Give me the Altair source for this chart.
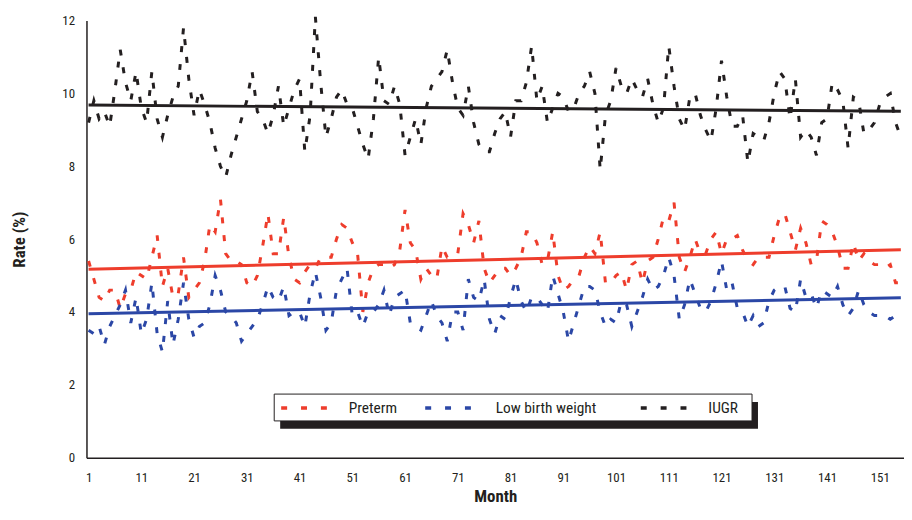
import altair as alt
import pandas as pd

months = list(range(1, 156))

iugr = [9.2, 9.8, 9.3, 9.5, 9.1, 10.1, 11.2, 10.3, 9.8, 10.6,
        9.6, 9.2, 10.6, 9.3, 8.8, 9.4, 9.9, 10.2, 11.8, 10.4,
        9.4, 10.1, 9.7, 9.2, 8.5, 8.0, 7.7, 8.3, 8.8, 9.3,
        9.8, 10.6, 9.5, 9.3, 8.9, 9.4, 10.2, 9.1, 9.6, 10.1,
        10.4, 8.4, 9.4, 12.1, 10.3, 8.8, 9.3, 9.9, 10.1, 9.7,
        9.6, 9.1, 8.6, 8.2, 9.3, 11.0, 9.8, 9.7, 10.2, 9.7,
        8.3, 8.8, 9.3, 8.6, 9.6, 10.2, 10.4, 10.6, 11.2, 10.3,
        9.6, 9.4, 10.2, 9.2, 8.6, 8.4, 8.4, 8.9, 9.3, 9.5,
        8.8, 9.8, 9.8, 10.3, 11.3, 9.8, 10.2, 9.2, 9.6, 10.0,
        9.9, 9.5, 9.6, 10.0, 10.2, 10.6, 10.0, 7.9, 9.4, 9.8,
        10.7, 10.2, 10.0, 10.4, 10.1, 9.9, 10.4, 9.7, 9.2, 9.6,
        11.3, 10.2, 9.3, 9.0, 9.9, 10.0, 9.4, 9.0, 8.7, 9.6,
        10.9, 9.9, 9.1, 9.1, 9.4, 8.1, 8.9, 8.8, 8.7, 9.2,
        10.0, 10.6, 10.4, 9.3, 10.4, 8.8, 9.0, 8.8, 8.3, 9.2,
        9.3, 10.3, 10.1, 9.8, 8.5, 9.9, 9.8, 8.9, 9.0, 9.2,
        9.7, 9.9, 10.0, 9.2, 8.8]

preterm = [5.4, 4.9, 4.4, 4.3, 4.6, 4.6, 4.1, 4.5, 4.6, 5.1,
           5.0, 4.9, 5.5, 6.1, 4.7, 5.2, 4.4, 4.5, 5.5, 4.4,
           4.6, 4.8, 5.4, 6.4, 6.2, 7.1, 5.6, 5.4, 5.4, 5.3,
           4.8, 4.7, 5.0, 5.8, 6.7, 5.6, 5.6, 6.6, 5.5, 4.9,
           4.8, 5.1, 5.3, 5.2, 5.5, 5.5, 5.5, 6.0, 6.4, 6.3,
           5.9, 5.6, 4.0, 4.8, 5.2, 5.3, 5.3, 5.2, 5.3, 5.7,
           6.8, 5.9, 5.7, 4.9, 5.2, 5.0, 4.9, 5.8, 5.5, 5.5,
           5.6, 6.7, 6.4, 5.9, 6.5, 5.2, 4.8, 5.0, 5.2, 5.2,
           5.0, 5.2, 5.5, 6.2, 6.2, 5.9, 5.3, 5.4, 6.2, 5.0,
           4.6, 4.7, 4.9, 5.0, 5.5, 5.8, 5.6, 6.2, 4.8, 4.8,
           5.0, 5.1, 4.6, 5.3, 5.4, 4.8, 5.4, 5.5, 6.0, 6.6,
           6.5, 7.0, 5.5, 5.1, 5.5, 6.0, 5.6, 5.6, 6.0, 6.2,
           5.6, 6.0, 6.0, 6.1, 5.7, 5.4, 5.3, 5.5, 5.5, 5.5,
           6.1, 6.6, 6.7, 6.2, 5.7, 6.3, 5.9, 5.3, 5.4, 6.5,
           6.4, 6.2, 5.8, 5.2, 5.2, 5.9, 5.4, 5.6, 5.4, 5.3,
           5.3, 5.2, 5.3, 4.8, 4.8]

lbw = [3.5, 3.4, 3.6, 3.1, 3.6, 3.9, 4.2, 4.6, 3.7, 4.4,
       3.4, 3.8, 4.8, 3.4, 2.9, 4.3, 3.1, 3.8, 4.8, 3.8,
       3.3, 3.6, 3.7, 4.2, 5.0, 4.6, 4.0, 3.9, 3.7, 3.2,
       3.4, 3.6, 3.8, 4.2, 4.7, 4.4, 4.3, 4.7, 3.9, 4.0,
       4.0, 3.6, 4.5, 5.1, 4.4, 3.5, 3.7, 4.6, 4.9, 5.2,
       3.9, 4.0, 3.6, 4.0, 4.0, 4.2, 4.6, 3.9, 4.4, 4.5,
       4.6, 3.7, 3.6, 3.5, 3.9, 4.3, 3.9, 3.7, 3.2, 4.0,
       4.0, 3.5, 4.9, 4.4, 4.3, 4.9, 3.8, 3.4, 3.9, 3.8,
       4.4, 4.9, 4.3, 4.0, 4.4, 4.4, 4.2, 4.0, 5.0, 4.5,
       4.0, 3.2, 3.7, 4.2, 4.7, 4.7, 4.6, 4.0, 3.6, 3.8,
       3.7, 4.3, 4.2, 3.6, 4.0, 4.4, 4.9, 4.6, 4.7, 5.0,
       5.5, 5.0, 3.8, 4.2, 4.9, 4.5, 4.1, 4.0, 4.3, 4.8,
       5.4, 4.6, 4.8, 4.1, 4.0, 3.6, 3.9, 3.6, 3.7, 4.3,
       4.6, 4.7, 4.7, 4.1, 4.0, 4.9, 4.4, 4.5, 4.1, 4.6,
       4.5, 4.4, 4.7, 4.2, 3.9, 4.1, 4.6, 4.2, 4.0, 3.9,
       3.9, 3.9, 3.8, 3.9, 4.1]

series_names = ["Preterm", "Low birth weight", "IUGR"]
series_colors = ["#EE3D2C", "#2B47A6", "#231F20"]

# linear trend end points (month 1 and month 155)
trend_months = [1, 155]
trend_preterm = [5.17, 5.71]
trend_lbw = [3.95, 4.39]
trend_iugr = [9.68, 9.51]

x_ticks = list(range(1, 152, 10))
y_ticks = [0, 2, 4, 6, 8, 10, 12]

FONT = "Liberation Sans Narrow, Roboto Condensed, DejaVu Sans Condensed, Arial Narrow, sans-serif"

rows = []
for name, vals in zip(series_names, [preterm, lbw, iugr]):
    for m, v in zip(months, vals):
        rows.append({"month": m, "rate": v, "series": name})
df = pd.DataFrame(rows)

trows = []
for name, vals in zip(series_names, [trend_preterm, trend_lbw, trend_iugr]):
    for m, v in zip(trend_months, vals):
        trows.append({"month": m, "rate": v, "series": name})
tdf = pd.DataFrame(trows)

xscale = alt.Scale(domain=[0.6, 155.6], nice=False, zero=False)
yscale = alt.Scale(domain=[0, 12], nice=False)
cscale = alt.Scale(domain=series_names, range=series_colors)

x_enc = alt.X("month:Q", scale=xscale,
              axis=alt.Axis(values=x_ticks, grid=False, ticks=False, title="Month",
                            labelPadding=14, labelFontSize=13, labelFont=FONT,
                            labelColor="#231F20", domainColor="#231F20", domainWidth=1.5,
                            titleFont=FONT, titleFontSize=17, titleFontWeight="bold",
                            titleColor="#231F20", titlePadding=4))
y_enc = alt.Y("rate:Q", scale=yscale,
              axis=alt.Axis(values=y_ticks, grid=False, ticks=False, title="Rate (%)",
                            labelPadding=12, labelFontSize=13, labelFont=FONT,
                            labelColor="#231F20", domainColor="#231F20", domainWidth=1.5,
                            titleFont=FONT, titleFontSize=17, titleFontWeight="bold",
                            titleColor="#231F20", titlePadding=34))

lines = alt.Chart(df).mark_line(strokeDash=[6, 12], strokeWidth=3).encode(
    x=x_enc, y=y_enc,
    color=alt.Color("series:N", scale=cscale, legend=None),
    detail="series:N",
)

trends = alt.Chart(tdf).mark_line(strokeWidth=3).encode(
    x=alt.X("month:Q", scale=xscale),
    y=alt.Y("rate:Q", scale=yscale),
    color=alt.Color("series:N", scale=cscale, legend=None),
    detail="series:N",
)

# manual legend box with shadow
shadow = alt.Chart(pd.DataFrame({"a": [0]})).mark_rect(color="#231F20").encode(
    x=alt.value(195), x2=alt.value(676), y=alt.value(384), y2=alt.value(411))
box = alt.Chart(pd.DataFrame({"a": [0]})).mark_rect(
    fill="white", stroke="#231F20", strokeWidth=1).encode(
    x=alt.value(189), x2=alt.value(670), y=alt.value(376), y2=alt.value(403))

leg_sym_x = [196, 341, 558]
leg_txt_x = [264, 412, 626]
legend_layers = []
for name, col, sx, tx in zip(series_names, series_colors, leg_sym_x, leg_txt_x):
    legend_layers.append(
        alt.Chart(pd.DataFrame({"a": [0]})).mark_rule(
            color=col, strokeWidth=3.5, strokeDash=[6, 14]).encode(
            x=alt.value(sx), x2=alt.value(sx + 58), y=alt.value(390)))
    legend_layers.append(
        alt.Chart(pd.DataFrame({"t": [name]})).mark_text(
            align="left", baseline="middle", font=FONT, fontSize=15.5,
            color="#231F20").encode(
            x=alt.value(tx), y=alt.value(390), text="t:N"))

chart = alt.layer(lines, trends, shadow, box, *legend_layers).properties(
    width=823, height=440,
    autosize=alt.AutoSizeParams(type="none"),
    padding={"left": 79, "top": 11, "right": 0, "bottom": 49},
).configure_view(stroke=None)

chart.save("out.html", embed_options={"renderer": "svg", "actions": False})
